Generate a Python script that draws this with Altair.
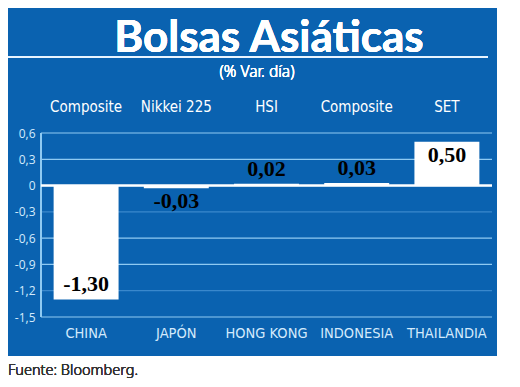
import altair as alt
import pandas as pd

countries = ["CHINA", "JAPÓN", "HONG KONG", "INDONESIA", "THAILANDIA"]
indices = ["Composite", "Nikkei 225", "HSI", "Composite", "SET"]
values = [-1.30, -0.03, 0.02, 0.03, 0.50]
labels = ["-1,30", "-0,03", "0,02", "0,03", "0,50"]
grid_values = [0.6, 0.3, 0.0, -0.3, -0.6, -0.9, -1.2, -1.5]

BLUE = "#0a62b0"
LIGHT = "#8fcaf2"
DARK_GRID = "#3a88cc"
TXT = "#d4eafc"
COND = "DejaVu Sans Condensed"

df = pd.DataFrame({"country": countries, "index": indices, "v": values, "label": labels})
gdf = pd.DataFrame({"g": grid_values})

W, H = 451, 184
x_axis = alt.Axis(title=None, labelAngle=0, ticks=False, domain=False,
                  labelColor=TXT, labelFont=COND,
                  labelFontSize=14.5, labelPadding=9, zindex=2)
x_scale = alt.Scale(paddingInner=0.28, paddingOuter=0.14)
y_scale = alt.Scale(domain=[-1.5, 0.6], nice=False, zero=False)
y_axis = alt.Axis(title=None, values=grid_values, grid=False, ticks=False,
                  domain=False, labelColor=TXT, labelFont="Open Sans",
                  labelFontSize=12, labelPadding=6, zindex=2,
                  labelExpr="replace(toString(datum.value), '.', ',')")


def X():
    return alt.X("country:N", sort=countries, scale=x_scale, axis=x_axis)


base = alt.Chart(df)

panel = alt.Chart(df).mark_rect(color=BLUE).encode(
    x=alt.value(-33), x2=alt.value(456), y=alt.value(-125), y2=alt.value(223))

title_line = alt.Chart(df).mark_rule(color="#e8f4ff", strokeWidth=2).encode(
    x=alt.value(-33), x2=alt.value(447), y=alt.value(-76))

title = alt.Chart(df).mark_text(text="Bolsas Asiáticas", font="Lato", fontWeight="bold",
                                fontSize=44, color="white", align="center",
                                baseline="alphabetic").encode(
    x=alt.value(228), y=alt.value(-81))

subtitle = alt.Chart(df).mark_text(text="(% Var. día)", font="Noto Sans", fontWeight=300,
                                   fontSize=15.5, color="white", align="center",
                                   baseline="middle").encode(
    x=alt.value(216), y=alt.value(-61))

footer = alt.Chart(df).mark_text(text="Fuente: Bloomberg.", font="Noto Sans",
                                 fontWeight=300, fontSize=14.5,
                                 color="#333333", align="left", baseline="alphabetic").encode(
    x=alt.value(-33), y=alt.value(242))

grid = alt.Chart(gdf).mark_rule(strokeWidth=1.2).encode(
    y=alt.Y("g:Q", scale=y_scale, axis=y_axis),
    x=alt.value(0), x2=alt.value(W),
    color=alt.condition("datum.g == -0.3 || datum.g == -1.2",
                        alt.value(DARK_GRID), alt.value(LIGHT)))

left_line = alt.Chart(df).mark_rule(color=LIGHT, strokeWidth=1.5).encode(
    x=alt.value(0), y=alt.value(0), y2=alt.value(H))

bars = base.mark_bar(color="white").encode(
    x=X(), y=alt.Y("v:Q", scale=y_scale, axis=y_axis), y2=alt.datum(0))

zero = alt.Chart(gdf).transform_filter("datum.g == 0").mark_rule(
    color="white", strokeWidth=2.5).encode(
    y=alt.Y("g:Q", scale=y_scale, axis=y_axis),
    x=alt.value(0), x2=alt.value(W))

txt_kw = dict(font="Liberation Serif", fontWeight="bold", fontSize=22, color="black")
above = base.transform_filter(
    "(datum.v < 0 && abs(datum.v) > 0.3) || (datum.v > 0 && abs(datum.v) <= 0.3)"
).mark_text(baseline="bottom", dy=-3, **txt_kw).encode(
    x=X(), y=alt.Y("v:Q", scale=y_scale, axis=y_axis), text="label:N")
below = base.transform_filter(
    "(datum.v > 0 && abs(datum.v) > 0.3) || (datum.v < 0 && abs(datum.v) <= 0.3)"
).mark_text(baseline="top", dy=3, **txt_kw).encode(
    x=X(), y=alt.Y("v:Q", scale=y_scale, axis=y_axis), text="label:N")

top_labels = base.mark_text(font=COND, fontSize=15, color="white",
                            baseline="middle").encode(
    x=X(), y=alt.value(-26), text="index:N")

chart = alt.layer(panel, title_line, title, subtitle, footer, grid, left_line, bars, zero,
                  above, below, top_labels).properties(
    width=W, height=H,
    padding={"left": 33, "top": 125, "right": 20, "bottom": 62},
    autosize=alt.AutoSizeParams(type="none"),
    background="white",
).configure_view(stroke=None)

chart.save("out.html", embed_options={"renderer": "svg", "actions": False})
